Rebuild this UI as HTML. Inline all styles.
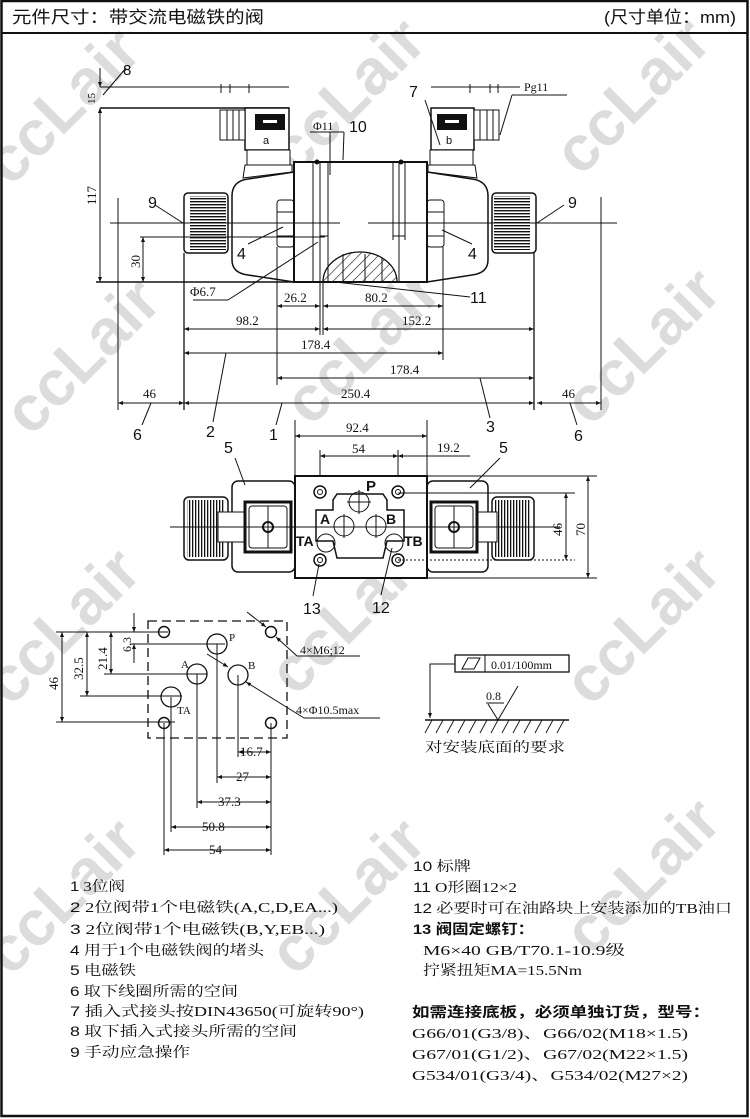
<!DOCTYPE html>
<html><head><meta charset="utf-8"><style>
html,body{margin:0;padding:0;background:#fff;}
svg{display:block;}
text{font-family:"Liberation Serif","Noto Serif CJK SC","Noto Sans CJK SC",serif;fill:#111;}
.s{font-family:"Liberation Sans","Noto Sans CJK SC",sans-serif;}
.wm{font-family:"Liberation Sans",sans-serif;font-weight:bold;font-size:64px;fill:#dcdcdc;}
</style></head><body>
<svg width="750" height="1119" viewBox="0 0 750 1119" xmlns="http://www.w3.org/2000/svg">
<defs>
<marker id="ar" viewBox="0 0 10 10" refX="10" refY="5" markerWidth="7" markerHeight="5" orient="auto-start-reverse"><path d="M0,1 L10,5 L0,9 z" fill="#111"/></marker>
<pattern id="hat" width="7" height="7" patternUnits="userSpaceOnUse" patternTransform="rotate(45)"><line x1="0" y1="0" x2="0" y2="7" stroke="#111" stroke-width="1.2"/></pattern>
<pattern id="grv" width="4" height="3" patternUnits="userSpaceOnUse"><rect width="4" height="1.4" fill="#111"/></pattern>
<pattern id="grvv" width="3" height="4" patternUnits="userSpaceOnUse"><rect width="1.3" height="4" fill="#111"/></pattern>
</defs>

<!-- watermarks -->
<g transform="rotate(-45 60 110)"><text class="wm" x="-30" y="130">ccLair</text></g>
<g transform="rotate(-45 345 100)"><text class="wm" x="255" y="120">ccLair</text></g>
<g transform="rotate(-45 630 100)"><text class="wm" x="540" y="120">ccLair</text></g>
<g transform="rotate(-45 80 360)"><text class="wm" x="-10" y="380">ccLair</text></g>
<g transform="rotate(-45 360 350)"><text class="wm" x="270" y="370">ccLair</text></g>
<g transform="rotate(-45 640 350)"><text class="wm" x="550" y="370">ccLair</text></g>
<g transform="rotate(-45 60 630)"><text class="wm" x="-30" y="650">ccLair</text></g>
<g transform="rotate(-45 345 620)"><text class="wm" x="255" y="640">ccLair</text></g>
<g transform="rotate(-45 640 630)"><text class="wm" x="550" y="650">ccLair</text></g>
<g transform="rotate(-45 60 900)"><text class="wm" x="-30" y="920">ccLair</text></g>
<g transform="rotate(-45 345 900)"><text class="wm" x="255" y="920">ccLair</text></g>
<g transform="rotate(-45 640 880)"><text class="wm" x="550" y="900">ccLair</text></g>

<!-- frame -->
<rect x="1.5" y="1" width="746" height="1115" fill="none" stroke="#111" stroke-width="2.5"/>
<line x1="1" y1="33" x2="748" y2="33" stroke="#111" stroke-width="2"/>
<text class="s" x="12" y="23" font-size="17" textLength="252" lengthAdjust="spacingAndGlyphs">元件尺寸：带交流电磁铁的阀</text>
<text class="s" x="604" y="23" font-size="17" textLength="132" lengthAdjust="spacingAndGlyphs">(尺寸单位：mm)</text>

<g stroke="#111" fill="none" stroke-width="1">
<!-- ===== TOP VIEW ===== -->
<!-- dims top left -->
<line x1="100" y1="87" x2="289" y2="87"/><line x1="100" y1="108" x2="289" y2="108" stroke-width="1.5"/>
<line x1="221" y1="84" x2="221" y2="93"/><line x1="230" y1="84" x2="230" y2="93"/><line x1="249" y1="84" x2="249" y2="93"/>
<line x1="431" y1="87" x2="520" y2="87"/><line x1="470" y1="84" x2="470" y2="93"/><line x1="490" y1="84" x2="490" y2="93"/><line x1="498" y1="84" x2="498" y2="93"/>
<line x1="100" y1="68" x2="100" y2="87" marker-end="url(#ar)"/>
<line x1="100" y1="108" x2="100" y2="120" marker-start="url(#ar)"/>
<line x1="100" y1="108" x2="100" y2="282" marker-start="url(#ar)" marker-end="url(#ar)"/>
<line x1="103" y1="95" x2="126" y2="68"/>
<!-- left connector -->
<rect x="245" y="108" width="44" height="42" fill="#fff" stroke-width="1.5"/>
<rect x="255" y="114" width="30" height="16" fill="#111" stroke="none"/>
<rect x="263" y="120" width="14" height="3" fill="#fff" stroke="none"/>
<rect x="220" y="110" width="25" height="30" fill="#fff"/>
<line x1="227" y1="110" x2="227" y2="140"/><line x1="233" y1="110" x2="233" y2="140"/><line x1="239" y1="110" x2="239" y2="140"/>
<rect x="247" y="150" width="43" height="15" fill="#fff"/>
<path d="M245,165 L292,165 L292,172 L243,178 Z" fill="#fff"/>
<!-- right connector -->
<rect x="431" y="108" width="43" height="42" fill="#fff" stroke-width="1.5"/>
<rect x="437" y="114" width="30" height="16" fill="#111" stroke="none"/>
<rect x="445" y="120" width="14" height="3" fill="#fff" stroke="none"/>
<rect x="474" y="110" width="25" height="30" fill="#fff"/>
<line x1="480" y1="110" x2="480" y2="140"/><line x1="487" y1="110" x2="487" y2="140"/><line x1="493" y1="110" x2="493" y2="140"/>
<rect x="430" y="150" width="43" height="15" fill="#fff"/>
<path d="M428,165 L475,165 L477,178 L428,172 Z" fill="#fff"/>
<!-- housings -->
<path d="M294,172 L248,179 Q232,181 232,196 L232,260 Q232,273 248,275 L294,282" fill="#fff" stroke-width="1.5"/>
<path d="M427,172 L472,179 Q488,181 488,196 L488,260 Q488,273 472,275 L427,282" fill="#fff" stroke-width="1.5"/>
<!-- knobs -->
<rect x="184" y="193" width="44" height="60" rx="4" fill="#fff" stroke-width="1.5"/>
<rect x="190" y="196" width="36" height="54" fill="url(#grv)" stroke="none"/>
<rect x="492" y="193" width="44" height="60" rx="4" fill="#fff" stroke-width="1.5"/>
<rect x="494" y="196" width="36" height="54" fill="url(#grv)" stroke="none"/>
<!-- nuts -->
<rect x="277" y="200" width="17" height="47" rx="3" fill="#fff"/><line x1="277" y1="212" x2="294" y2="212"/><line x1="277" y1="236" x2="294" y2="236"/>
<rect x="427" y="200" width="17" height="47" rx="3" fill="#fff"/><line x1="427" y1="212" x2="444" y2="212"/><line x1="427" y1="236" x2="444" y2="236"/>
<!-- body -->
<rect x="294" y="162" width="133" height="120" fill="#fff" stroke-width="2"/>
<line x1="313" y1="162" x2="313" y2="282"/><line x1="320" y1="162" x2="320" y2="282"/><line x1="328" y1="162" x2="328" y2="282"/>
<line x1="393" y1="162" x2="393" y2="240"/><line x1="399" y1="162" x2="399" y2="282"/><line x1="405" y1="162" x2="405" y2="240"/>
<line x1="320" y1="236" x2="328" y2="236"/><line x1="393" y1="236" x2="405" y2="236"/>
<path d="M323,282 A37,30 0 0 1 397,282 Z" fill="url(#hat)" stroke-width="1.3"/>
<line x1="343" y1="254" x2="343" y2="282"/><line x1="365" y1="254" x2="365" y2="282"/><line x1="382" y1="258" x2="382" y2="282"/>
<circle cx="317" cy="162" r="2" fill="#111"/><circle cx="401" cy="162" r="2" fill="#111"/>
<!-- centerlines & extension -->
<line x1="110" y1="223" x2="340" y2="223"/><line x1="368" y1="223" x2="617" y2="223"/>
<line x1="140" y1="237" x2="325" y2="237"/>
<line x1="143" y1="237" x2="143" y2="282" marker-start="url(#ar)" marker-end="url(#ar)"/>
<line x1="96" y1="282" x2="294" y2="282" stroke-width="1.5"/>
<line x1="184" y1="253" x2="184" y2="410" stroke-width="1.3"/>
<line x1="118" y1="198" x2="118" y2="410"/>
<line x1="601" y1="197" x2="601" y2="410"/>
<line x1="534" y1="253" x2="534" y2="410" stroke-width="1.3"/>
<line x1="277" y1="247" x2="277" y2="385"/>
<line x1="443" y1="247" x2="443" y2="360"/>
<line x1="320" y1="282" x2="320" y2="335"/><line x1="323" y1="282" x2="323" y2="335"/>
<!-- dims -->
<line x1="277" y1="306" x2="320" y2="306" marker-start="url(#ar)" marker-end="url(#ar)"/>
<line x1="323" y1="306" x2="443" y2="306" marker-start="url(#ar)" marker-end="url(#ar)"/>
<line x1="184" y1="329" x2="320" y2="329" marker-start="url(#ar)" marker-end="url(#ar)"/>
<line x1="323" y1="329" x2="534" y2="329" marker-start="url(#ar)" marker-end="url(#ar)"/>
<line x1="184" y1="353" x2="443" y2="353" marker-start="url(#ar)" marker-end="url(#ar)"/>
<line x1="277" y1="378" x2="534" y2="378" marker-start="url(#ar)" marker-end="url(#ar)"/>
<line x1="118" y1="403" x2="184" y2="403" marker-start="url(#ar)" marker-end="url(#ar)"/>
<line x1="184" y1="403" x2="534" y2="403" marker-start="url(#ar)" marker-end="url(#ar)"/>
<line x1="537" y1="403" x2="601" y2="403" marker-start="url(#ar)" marker-end="url(#ar)"/>
<!-- leaders -->
<line x1="155" y1="205" x2="183" y2="223"/><line x1="564" y1="205" x2="537" y2="223"/>
<line x1="248" y1="244" x2="283" y2="227"/><line x1="472" y1="244" x2="442" y2="230"/>
<line x1="193" y1="300" x2="228" y2="300"/><line x1="228" y1="300" x2="318" y2="242"/>
<line x1="335" y1="282" x2="470" y2="297"/>
<line x1="343" y1="160" x2="344" y2="132"/><line x1="310" y1="132" x2="344" y2="132"/>
<line x1="330" y1="175" x2="330" y2="132"/>
<line x1="425" y1="100" x2="440" y2="145"/>
<line x1="500" y1="135" x2="512" y2="95"/><line x1="512" y1="95" x2="567" y2="95"/>
<line x1="142" y1="425" x2="151" y2="403"/><line x1="213" y1="422" x2="226" y2="353"/>
<line x1="276" y1="425" x2="282" y2="403"/><line x1="490" y1="418" x2="480" y2="378"/>
<line x1="577" y1="425" x2="570" y2="403"/>

<!-- ===== FRONT VIEW ===== -->
<line x1="295" y1="420" x2="295" y2="476"/><line x1="427" y1="420" x2="427" y2="476"/>
<line x1="320" y1="450" x2="320" y2="490"/><line x1="398" y1="450" x2="398" y2="490"/>
<line x1="295" y1="436" x2="427" y2="436" marker-start="url(#ar)" marker-end="url(#ar)"/>
<line x1="320" y1="456" x2="398" y2="456" marker-start="url(#ar)" marker-end="url(#ar)"/>
<line x1="398" y1="456" x2="427" y2="456" marker-start="url(#ar)"/>
<line x1="427" y1="456" x2="470" y2="456"/>
<rect x="232" y="481" width="63" height="91" rx="6" fill="#fff" stroke-width="1.5"/>
<rect x="427" y="481" width="61" height="91" rx="6" fill="#fff" stroke-width="1.5"/>
<rect x="184" y="497" width="44" height="63" rx="5" fill="#fff" stroke-width="1.5"/>
<rect x="187" y="500" width="38" height="57" fill="url(#grvv)" stroke="none"/>
<rect x="492" y="497" width="42" height="63" rx="5" fill="#fff" stroke-width="1.5"/>
<rect x="495" y="500" width="36" height="57" fill="url(#grvv)" stroke="none"/>
<rect x="218" y="512" width="27" height="30" fill="#fff"/><rect x="477" y="512" width="20" height="30" fill="#fff"/>
<rect x="245" y="502" width="46" height="50" fill="#fff" stroke-width="3"/>
<rect x="249" y="506" width="38" height="42" rx="3"/>
<rect x="431" y="502" width="46" height="50" fill="#fff" stroke-width="3"/>
<rect x="435" y="506" width="38" height="42" rx="3"/>
<line x1="268" y1="506" x2="268" y2="548"/><line x1="454" y1="506" x2="454" y2="548"/>
<circle cx="268" cy="527" r="5" stroke-width="2"/><circle cx="454" cy="527" r="5" stroke-width="2"/>
<rect x="295" y="476" width="132" height="102" fill="#fff" stroke-width="2"/>
<line x1="170" y1="527" x2="560" y2="527"/>
<path d="M337,494 L383,494 L387,500 L387,510 L404,510 L404,541 L387,541 L383,558 L337,558 L333,541 L316,541 L316,510 L333,510 L333,500 Z" stroke-width="1.5"/>
<circle cx="359" cy="502" r="10"/><line x1="359" y1="490" x2="359" y2="514"/><line x1="347" y1="502" x2="371" y2="502"/>
<circle cx="344" cy="526" r="10"/><line x1="344" y1="514" x2="344" y2="538"/>
<circle cx="376" cy="526" r="10"/><line x1="376" y1="514" x2="376" y2="538"/>
<circle cx="326" cy="543" r="9"/><circle cx="394" cy="543" r="9"/>
<g stroke-width="1.5"><circle cx="320" cy="492" r="6"/><circle cx="398" cy="492" r="6"/><circle cx="320" cy="560" r="6"/><circle cx="398" cy="560" r="6"/></g>
<circle cx="320" cy="492" r="2.5"/><circle cx="398" cy="492" r="2.5"/><circle cx="320" cy="560" r="2.5"/><circle cx="398" cy="560" r="2.5"/>
<line x1="398" y1="493" x2="575" y2="493"/><line x1="398" y1="560" x2="575" y2="560" stroke-dasharray="2,2"/>
<line x1="427" y1="476" x2="597" y2="476"/><line x1="427" y1="578" x2="597" y2="578"/>
<line x1="566" y1="493" x2="566" y2="560" marker-start="url(#ar)" marker-end="url(#ar)"/>
<line x1="588" y1="476" x2="588" y2="578" marker-start="url(#ar)" marker-end="url(#ar)"/>
<line x1="235" y1="458" x2="245" y2="485"/><line x1="500" y1="458" x2="470" y2="488"/>
<line x1="313" y1="596" x2="319" y2="564"/><line x1="381" y1="595" x2="392" y2="548"/>

<!-- ===== MOUNTING PLATE ===== -->
<rect x="148" y="621" width="139" height="117" stroke-dasharray="9,5" stroke-width="1.3"/>
<circle cx="164" cy="632" r="5.5" stroke-width="1.5"/><circle cx="271" cy="632" r="5.5" stroke-width="1.5"/>
<circle cx="164" cy="723" r="5.5" stroke-width="1.5"/><circle cx="271" cy="723" r="5.5" stroke-width="1.5"/>
<circle cx="217" cy="644" r="10" stroke-width="1.3"/><circle cx="197" cy="674" r="10" stroke-width="1.3"/>
<circle cx="238" cy="675" r="10" stroke-width="1.3"/><circle cx="171" cy="697" r="10" stroke-width="1.3"/>
<line x1="56" y1="632" x2="168" y2="632"/><line x1="130" y1="644" x2="225" y2="644"/>
<line x1="104" y1="674" x2="207" y2="674"/><line x1="80" y1="696" x2="182" y2="696"/>
<line x1="56" y1="722" x2="175" y2="722"/>
<line x1="62" y1="632" x2="62" y2="722" marker-start="url(#ar)" marker-end="url(#ar)"/>
<line x1="87" y1="632" x2="87" y2="696" marker-start="url(#ar)" marker-end="url(#ar)"/>
<line x1="111" y1="632" x2="111" y2="674" marker-start="url(#ar)" marker-end="url(#ar)"/>
<line x1="134" y1="613" x2="134" y2="632" marker-end="url(#ar)"/>
<line x1="134" y1="663" x2="134" y2="644" marker-end="url(#ar)"/>
<line x1="164" y1="723" x2="164" y2="855"/><line x1="171" y1="697" x2="171" y2="832"/>
<line x1="197" y1="674" x2="197" y2="808"/><line x1="217" y1="644" x2="217" y2="783"/>
<line x1="238" y1="675" x2="238" y2="757"/><line x1="271" y1="723" x2="271" y2="855"/>
<line x1="238" y1="752" x2="271" y2="752" marker-start="url(#ar)" marker-end="url(#ar)"/>
<line x1="217" y1="777" x2="271" y2="777" marker-start="url(#ar)" marker-end="url(#ar)"/>
<line x1="197" y1="802" x2="271" y2="802" marker-start="url(#ar)" marker-end="url(#ar)"/>
<line x1="171" y1="827" x2="271" y2="827" marker-start="url(#ar)" marker-end="url(#ar)"/>
<line x1="164" y1="850" x2="271" y2="850" marker-start="url(#ar)" marker-end="url(#ar)"/>
<line x1="247" y1="612" x2="266" y2="627" marker-end="url(#ar)"/>
<line x1="297" y1="656" x2="276" y2="637" marker-end="url(#ar)"/>
<line x1="297" y1="656" x2="360" y2="656"/>
<line x1="207" y1="654" x2="228" y2="667" marker-end="url(#ar)"/>
<line x1="304" y1="718" x2="246" y2="682" marker-end="url(#ar)"/>
<line x1="304" y1="718" x2="380" y2="718"/>

<!-- flatness -->
<rect x="455" y="655" width="114" height="17" stroke-width="1.3"/>
<line x1="485" y1="655" x2="485" y2="672"/>
<path d="M462,669 L468,658 L480,658 L474,669 Z"/>
<polyline points="455,664 430,664 430,714" />
<line x1="430" y1="702" x2="430" y2="718" marker-end="url(#ar)"/>
<line x1="425" y1="720" x2="569" y2="720" stroke-width="1.5"/>
<g stroke-width="0.9"><line x1="432" y1="720" x2="425" y2="733"/><line x1="443" y1="720" x2="436" y2="733"/><line x1="454" y1="720" x2="447" y2="733"/><line x1="465" y1="720" x2="458" y2="733"/><line x1="476" y1="720" x2="469" y2="733"/><line x1="487" y1="720" x2="480" y2="733"/><line x1="498" y1="720" x2="491" y2="733"/><line x1="509" y1="720" x2="502" y2="733"/><line x1="520" y1="720" x2="513" y2="733"/><line x1="531" y1="720" x2="524" y2="733"/><line x1="542" y1="720" x2="535" y2="733"/><line x1="553" y1="720" x2="546" y2="733"/><line x1="564" y1="720" x2="557" y2="733"/></g>
<polyline points="488,704 498,720 518,686"/><line x1="486" y1="703" x2="504" y2="703"/>
</g>

<!-- TOP VIEW TEXT -->
<g font-size="13">
<text x="123" y="75" class="s" font-size="15">8</text>
<text x="0" y="0" transform="translate(95,104) rotate(-90)" font-size="11">15</text>
<text x="0" y="0" transform="translate(96,205) rotate(-90)">117</text>
<text x="0" y="0" transform="translate(140,268) rotate(-90)">30</text>
<text x="313" y="130" font-size="12">Φ11</text>
<text x="349" y="132" class="s" font-size="16">10</text>
<text x="409" y="97" class="s" font-size="16">7</text>
<text x="524" y="91" font-size="12">Pg11</text>
<text x="263" y="144" class="s" font-size="11">a</text>
<text x="446" y="144" class="s" font-size="11">b</text>
<text x="148" y="208" class="s" font-size="16">9</text>
<text x="568" y="208" class="s" font-size="16">9</text>
<text x="237" y="259" class="s" font-size="16">4</text>
<text x="468" y="259" class="s" font-size="16">4</text>
<text x="190" y="296">Φ6.7</text>
<text x="470" y="303" class="s" font-size="16">11</text>
<text x="284" y="302">26.2</text>
<text x="365" y="302">80.2</text>
<text x="236" y="325">98.2</text>
<text x="402" y="325">152.2</text>
<text x="301" y="349">178.4</text>
<text x="390" y="374">178.4</text>
<text x="143" y="398">46</text>
<text x="341" y="398">250.4</text>
<text x="562" y="398">46</text>
<text x="133" y="440" class="s" font-size="16">6</text>
<text x="206" y="437" class="s" font-size="16">2</text>
<text x="269" y="440" class="s" font-size="16">1</text>
<text x="486" y="432" class="s" font-size="16">3</text>
<text x="574" y="441" class="s" font-size="16">6</text>
<!-- front -->
<text x="346" y="432">92.4</text>
<text x="352" y="453">54</text>
<text x="437" y="452">19.2</text>
<text x="224" y="453" class="s" font-size="16">5</text>
<text x="499" y="453" class="s" font-size="16">5</text>
<text x="0" y="0" transform="translate(562,536) rotate(-90)">46</text>
<text x="0" y="0" transform="translate(585,536) rotate(-90)">70</text>
<text x="366" y="491" class="s" font-size="15" font-weight="bold">P</text>
<text x="320" y="524" class="s" font-size="14" font-weight="bold">A</text>
<text x="386" y="524" class="s" font-size="14" font-weight="bold">B</text>
<text x="296" y="546" class="s" font-size="14" font-weight="bold">TA</text>
<text x="404" y="546" class="s" font-size="14" font-weight="bold">TB</text>
<text x="303" y="614" class="s" font-size="16">13</text>
<text x="372" y="613" class="s" font-size="16">12</text>
<!-- plate -->
<text x="229" y="641" font-size="11">P</text>
<text x="181" y="668" font-size="11">A</text>
<text x="248" y="669" font-size="11">B</text>
<text x="177" y="714" font-size="11">TA</text>
<text x="0" y="0" transform="translate(58,690) rotate(-90)">46</text>
<text x="0" y="0" transform="translate(83,680) rotate(-90)">32.5</text>
<text x="0" y="0" transform="translate(107,670) rotate(-90)">21.4</text>
<text x="0" y="0" transform="translate(131,652) rotate(-90)" font-size="12">6.3</text>
<text x="300" y="654" font-size="12">4×M6;12</text>
<text x="296" y="714" font-size="12">4×Φ10.5max</text>
<text x="240" y="756">16.7</text>
<text x="236" y="781">27</text>
<text x="218" y="806">37.3</text>
<text x="202" y="831">50.8</text>
<text x="209" y="854">54</text>
<text x="491" y="669" font-size="12">0.01/100mm</text>
<text x="486" y="700" font-size="12">0.8</text>
<text x="425" y="752" font-size="14" textLength="140" lengthAdjust="spacingAndGlyphs">对安装底面的要求</text>
</g>

<!-- legend -->
<g font-size="14">
<text x="70" y="891" textLength="55" lengthAdjust="spacingAndGlyphs"><tspan class="s">1</tspan> 3位阀</text>
<text x="70" y="912" textLength="268" lengthAdjust="spacingAndGlyphs"><tspan class="s">2</tspan> 2位阀带1个电磁铁(A,C,D,EA...)</text>
<text x="70" y="934" textLength="255" lengthAdjust="spacingAndGlyphs"><tspan class="s">3</tspan> 2位阀带1个电磁铁(B,Y,EB...)</text>
<text x="70" y="955" textLength="194" lengthAdjust="spacingAndGlyphs"><tspan class="s">4</tspan> 用于1个电磁铁阀的堵头</text>
<text x="70" y="975" textLength="66" lengthAdjust="spacingAndGlyphs"><tspan class="s">5</tspan> 电磁铁</text>
<text x="70" y="996" textLength="168" lengthAdjust="spacingAndGlyphs"><tspan class="s">6</tspan> 取下线圈所需的空间</text>
<text x="70" y="1016" textLength="294" lengthAdjust="spacingAndGlyphs"><tspan class="s">7</tspan> 插入式接头按DIN43650(可旋转90°)</text>
<text x="70" y="1036" textLength="227" lengthAdjust="spacingAndGlyphs"><tspan class="s">8</tspan> 取下插入式接头所需的空间</text>
<text x="70" y="1057" textLength="120" lengthAdjust="spacingAndGlyphs"><tspan class="s">9</tspan> 手动应急操作</text>

<text x="413" y="871" textLength="58" lengthAdjust="spacingAndGlyphs"><tspan class="s">10</tspan> 标牌</text>
<text x="413" y="892" textLength="104" lengthAdjust="spacingAndGlyphs"><tspan class="s">11</tspan> O形圈12×2</text>
<text x="413" y="913" textLength="319" lengthAdjust="spacingAndGlyphs"><tspan class="s">12</tspan> 必要时可在油路块上安装添加的TB油口</text>
<text x="413" y="934" textLength="121" lengthAdjust="spacingAndGlyphs" font-weight="bold" class="s">13 阀固定螺钉：</text>
<text x="423" y="955" textLength="202" lengthAdjust="spacingAndGlyphs">M6×40 GB/T70.1-10.9级</text>
<text x="423" y="975" textLength="159" lengthAdjust="spacingAndGlyphs">拧紧扭矩MA=15.5Nm</text>
<text x="412" y="1017" textLength="298" lengthAdjust="spacingAndGlyphs" font-weight="bold" class="s">如需连接底板，必须单独订货，型号：</text>
<text x="412" y="1038" textLength="276" lengthAdjust="spacingAndGlyphs">G66/01(G3/8)、G66/02(M18×1.5)</text>
<text x="412" y="1059" textLength="276" lengthAdjust="spacingAndGlyphs">G67/01(G1/2)、G67/02(M22×1.5)</text>
<text x="412" y="1080" textLength="276" lengthAdjust="spacingAndGlyphs">G534/01(G3/4)、G534/02(M27×2)</text>
</g>
</svg>
</body></html>
